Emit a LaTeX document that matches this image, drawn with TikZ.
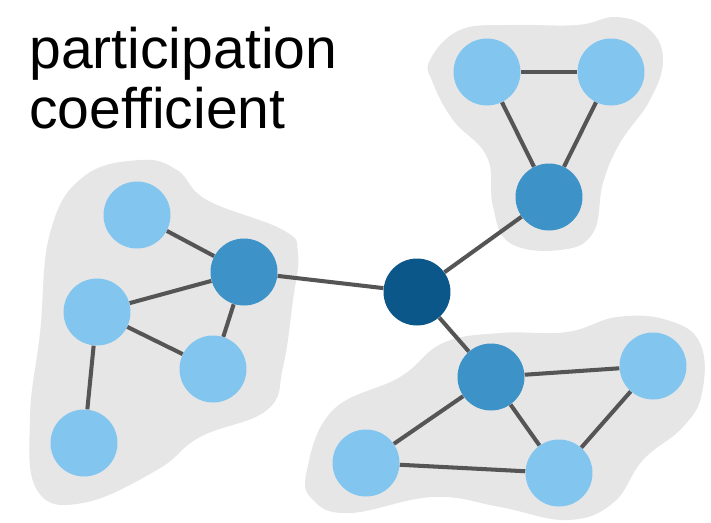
\documentclass[tikz,border=0pt]{standalone}
\usepackage{fontspec}
\setmainfont{Liberation Sans}
\usepackage{tikz}
\usetikzlibrary{positioning,calc}
\definecolor{leafblue}{HTML}{82C6F0}
\definecolor{hubblue}{HTML}{3D92C8}
\definecolor{darkblue}{HTML}{0B5789}
\definecolor{blobgray}{HTML}{E6E6E6}
\definecolor{edgegray}{HTML}{555555}

\begin{document}
\begin{tikzpicture}[x=0.02cm, y=-0.02cm,
    leaf/.style={circle, fill=leafblue, minimum size=1.34cm, inner sep=0pt},
    hub/.style={leaf, fill=hubblue},
    connector/.style={leaf, fill=darkblue},
    link/.style={edgegray, line width=2.3pt},
    blob/.style={fill=blobgray}]
  \useasboundingbox (0,0) rectangle (711,522);
  % modules
  \fill[blob] plot[smooth cycle, tension=0.7] coordinates {(83,177) (140,160) (177,170) (207,200) (283,230) (298,253) (293,300) (283,367) (267,410) (200,437) (157,470) (83,503) (37,490) (30,417) (40,333) (50,233)};
  \fill[blob] plot[smooth cycle, tension=0.7] coordinates {(307,470) (333,410) (400,377) (443,343) (500,333) (567,332) (617,317) (667,320) (700,343) (702,393) (683,427) (643,460) (613,503) (567,520) (500,507) (433,497) (350,513) (313,500)};
  \fill[blob] plot[smooth cycle, tension=0.7] coordinates {(430,60) (460,30) (510,25) (577,25) (617,17) (650,30) (663,60) (650,100) (620,143) (603,183) (593,233) (560,250) (510,243) (493,207) (487,157) (453,120) (433,83)};
  % nodes
  \node[connector] (c) at (417,292) {};
  \node[hub] (t) at (549,197) {};
  \node[leaf] (t1) at (487,72) {};
  \node[leaf] (t2) at (611,72) {};
  \node[hub] (l) at (244,272) {};
  \node[leaf] (l1) at (137,215) {};
  \node[leaf] (l2) at (97,312) {};
  \node[leaf] (l3) at (213,369) {};
  \node[leaf] (l4) at (84,443) {};
  \node[hub] (b) at (491,377) {};
  \node[leaf] (b1) at (653,366) {};
  \node[leaf] (b2) at (366,463) {};
  \node[leaf] (b3) at (559,473) {};
  % links
  \foreach \u/\v in {c/t, c/l, c/b, t/t1, t/t2, t1/t2, l/l1, l/l2, l/l3, l2/l3, l2/l4, b/b1, b/b2, b/b3, b2/b3, b3/b1}
    \draw[link] (\u) -- (\v);
  \node[anchor=base west, align=left, inner sep=0pt, font=\fontsize{32.5}{34}\selectfont] (title) at (29,128) {participation\\coefficient};
\end{tikzpicture}
\end{document}
